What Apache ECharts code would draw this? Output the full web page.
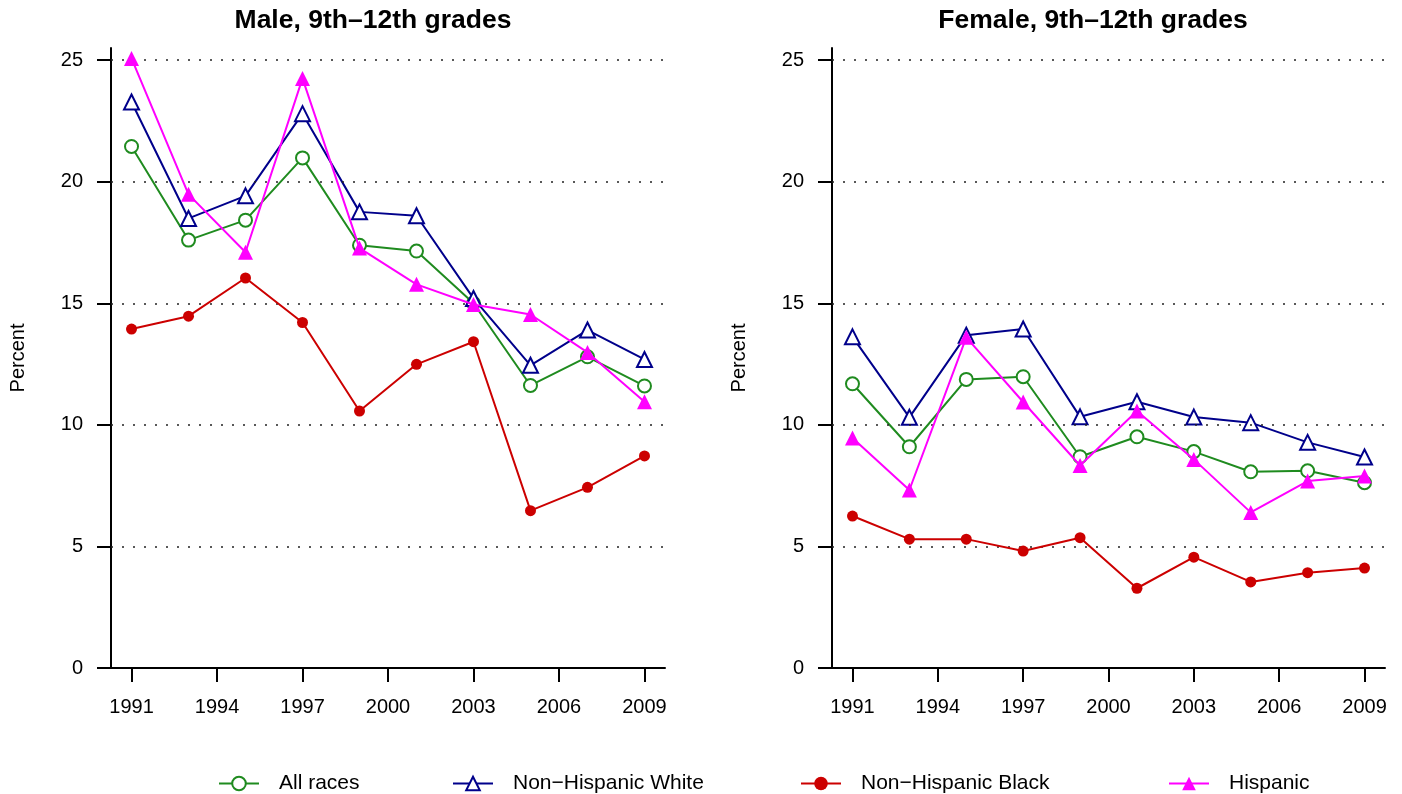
<!DOCTYPE html>
<html>
<head>
<meta charset="utf-8">
<title>Percent by race, 9th-12th grades</title>
<script src="https://cdn.jsdelivr.net/npm/echarts@6/dist/echarts.min.js"></script>
<style>
  html, body { margin: 0; padding: 0; background: #fff; }
  #chart { width: 1402px; height: 794px; }
</style>
</head>
<body>
<div id="chart"></div>
<script>
// survey years
const years = [1991, 1993, 1995, 1997, 1999, 2001, 2003, 2005, 2007, 2009]
const yearTicks = [1991, 1994, 1997, 2000, 2003, 2006, 2009]
const percentTicks = [0, 5, 10, 15, 20, 25]
const gridLevels = [5, 10, 15, 20, 25]

const seriesNames = ['All races', 'Non\u2212Hispanic White', 'Non\u2212Hispanic Black', 'Hispanic']
const panelTitles = ['Male, 9th\u201312th grades', 'Female, 9th\u201312th grades']

// male
const maleAll = [21.45, 17.6, 18.42, 20.98, 17.39, 17.15, 15.0, 11.62, 12.8, 11.6]
const maleWhite = [23.28, 18.49, 19.42, 22.8, 18.76, 18.6, 15.2, 12.45, 13.9, 12.69]
const maleBlack = [13.94, 14.47, 16.04, 14.21, 10.57, 12.49, 13.42, 6.47, 7.43, 8.72]
const maleHispanic = [25.07, 19.48, 17.1, 24.25, 17.27, 15.78, 14.95, 14.54, 12.98, 10.95]

// female
const femaleAll = [11.69, 9.1, 11.87, 11.98, 8.69, 9.51, 8.9, 8.07, 8.11, 7.62]
const femaleWhite = [13.62, 10.31, 13.69, 13.94, 10.33, 10.95, 10.32, 10.09, 9.28, 8.68]
const femaleBlack = [6.25, 5.3, 5.3, 4.81, 5.36, 3.28, 4.56, 3.54, 3.92, 4.11]
const femaleHispanic = [9.46, 7.32, 13.6, 10.94, 8.33, 10.57, 8.58, 6.4, 7.69, 7.9]

const FONT = 'Liberation Sans, Arial, Helvetica, sans-serif'

const looks = [
  { color: '#1f8b1f', symbol: 'emptyCircle', size: 13 },
  { color: '#00008b', symbol: 'emptyTriangle', size: 15 },
  { color: '#cc0000', symbol: 'circle', size: 11 },
  { color: '#ff00ff', symbol: 'triangle', size: 15 }
]

function makeSeries(idx, values, panel) {
  const lk = looks[idx]
  const s = {
    type: 'line',
    name: seriesNames[idx],
    xAxisIndex: panel,
    yAxisIndex: panel,
    data: years.map((y, i) => [y, values[i]]),
    symbol: lk.symbol,
    symbolSize: lk.size,
    showAllSymbol: true,
    lineStyle: { color: lk.color, width: 2 },
    itemStyle: { color: lk.color, borderWidth: 2 },
    emphasis: { disabled: true },
    z: 3 + idx
  }
  if (idx === 0) {
    s.markLine = {
      silent: true,
      symbol: 'none',
      label: { show: false },
      lineStyle: { type: [2, 9], color: '#222', width: 1.6 },
      data: gridLevels.map(v => ({ yAxis: v }))
    }
  }
  return s
}

function xAxisFor(panel) {
  return {
    type: 'value',
    gridIndex: panel,
    min: 1990.28,
    max: 2009.72,
    splitLine: { show: false },
    axisLine: { show: true, lineStyle: { color: '#000', width: 2 } },
    axisTick: { show: true, customValues: yearTicks, length: 14, lineStyle: { color: '#000', width: 2 } },
    axisLabel: {
      customValues: yearTicks, margin: 29, fontSize: 20, fontFamily: FONT, color: '#000',
      formatter: v => String(v)
    }
  }
}

function yAxisFor(panel) {
  return {
    type: 'value',
    gridIndex: panel,
    min: 0,
    max: 25.5,
    name: 'Percent',
    nameLocation: 'middle',
    nameGap: 83,
    nameTextStyle: { fontSize: 20, fontFamily: FONT, color: '#000' },
    splitLine: { show: false },
    axisLine: { show: true, onZero: false, lineStyle: { color: '#000', width: 2 } },
    axisTick: { show: true, customValues: percentTicks, length: 14, lineStyle: { color: '#000', width: 2 } },
    axisLabel: { customValues: percentTicks, margin: 28, fontSize: 20, fontFamily: FONT, color: '#000' }
  }
}

const legendLeft = [218, 452, 800, 1168]

const option = {
  animation: false,
  backgroundColor: '#fff',
  grid: [
    { left: 111, top: 48, width: 554, height: 620, outerBoundsMode: 'none' },
    { left: 832, top: 48, width: 553, height: 620, outerBoundsMode: 'none' }
  ],
  xAxis: [xAxisFor(0), xAxisFor(1)],
  yAxis: [yAxisFor(0), yAxisFor(1)],
  legend: seriesNames.map((n, i) => ({
    data: [n],
    left: legendLeft[i],
    top: 773,
    padding: 0,
    itemWidth: 40,
    itemHeight: 17,
    selectedMode: false,
    textStyle: { fontSize: 21, fontFamily: FONT, color: '#000', padding: [0, 0, 0, 15] }
  })),
  graphic: panelTitles.map((t, i) => ({
    type: 'text',
    x: [373, 1093][i],
    y: 21,
    style: { text: t, align: 'center', verticalAlign: 'middle', font: 'bold 26.5px ' + FONT, fill: '#000' }
  })),
  series: [
    makeSeries(0, maleAll, 0),
    makeSeries(1, maleWhite, 0),
    makeSeries(2, maleBlack, 0),
    makeSeries(3, maleHispanic, 0),
    makeSeries(0, femaleAll, 1),
    makeSeries(1, femaleWhite, 1),
    makeSeries(2, femaleBlack, 1),
    makeSeries(3, femaleHispanic, 1)
  ]
}

const chart = echarts.init(document.getElementById('chart'), null, { renderer: 'canvas' })
chart.setOption(option)
</script>
</body>
</html>
